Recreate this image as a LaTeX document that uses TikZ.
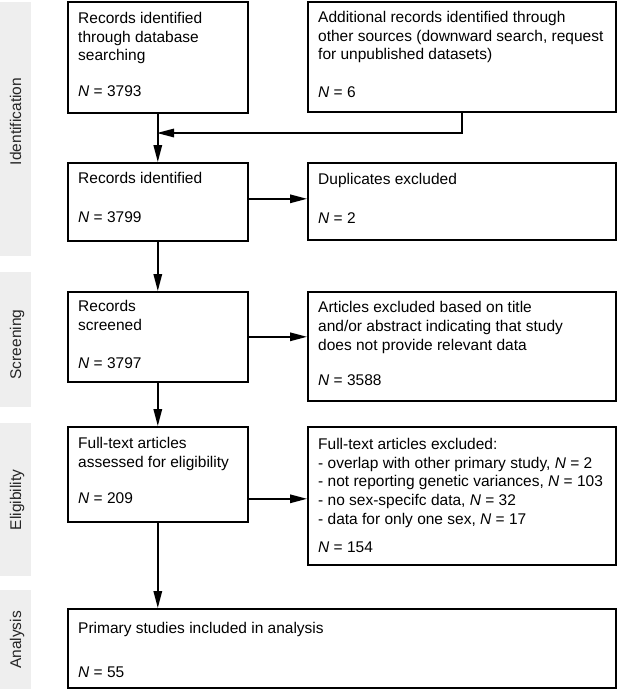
\documentclass[tikz,border=0pt]{standalone}
\usepackage{fontspec}
\setmainfont{Liberation Sans}
\usetikzlibrary{arrows.meta,calc}
\definecolor{bargray}{RGB}{238,238,238}
\newcommand\Nit{\textit{N}}
\newcommand\fstrut{\rule{0pt}{12pt}}
\begin{document}
\begin{tikzpicture}[x=1pt,y=-1pt,
  box/.style={draw, line width=1.6pt, anchor=north west, inner sep=0pt, minimum width=#1},
  txt/.style={anchor=north west, inner sep=0pt, align=left, font=\fontsize{15.5}{18.8}\selectfont},
  arr/.style={line width=1.5pt, -{Triangle[length=17pt,width=8.5pt]}},
  bar/.style={fill=bargray, draw=none},
  lab/.style={rotate=90, anchor=base, inner sep=0pt, text=black!85, font=\fontsize{15.5}{18.8}\selectfont}]
\useasboundingbox (0,0) rectangle (617,689);
% phase bars
\fill[bar] (0,2) rectangle (31,256);
\fill[bar] (0,272) rectangle (31,407);
\fill[bar] (0,423) rectangle (31,576);
\fill[bar] (0,590) rectangle (31,689);
\node[lab] (l1) at (21,121.5) {Identification};
\node[lab] (l2) at (21,344.5) {Screening};
\node[lab] (l3) at (21,500) {Eligibility};
\node[lab] (l4) at (21,640) {Analysis};
% boxes
\node[box=180pt, minimum height=111pt] (b1) at (67,1) {};
\node[box=308pt, minimum height=110pt] (b2) at (307,1) {};
\node[box=180pt, minimum height=78pt] (b3) at (67,162) {};
\node[box=308pt, minimum height=77pt] (b4) at (307,162) {};
\node[box=180pt, minimum height=90pt] (b5) at (67,291) {};
\node[box=308pt, minimum height=109pt] (b6) at (307,291) {};
\node[box=180pt, minimum height=95pt] (b7) at (67,426) {};
\node[box=308pt, minimum height=138pt] (b8) at (307,426) {};
\node[box=548pt, minimum height=79pt] (b9) at (67,608) {};
% texts
\node[txt] (t1) at ($(b1.north west)+(11,10)$) {\fstrut Records identified\\through database\\searching\\[17pt]\Nit\ = 3793};
\node[txt] (t2) at ($(b2.north west)+(11,9)$) {\fstrut Additional records identified through\\other sources (downward search, request\\for unpublished datasets)\\[18.5pt]\Nit\ = 6};
\node[txt] (t3) at ($(b3.north west)+(11,9)$) {\fstrut Records identified\\[20pt]\Nit\ = 3799};
\node[txt] (t4) at ($(b4.north west)+(11,10)$) {\fstrut Duplicates excluded\\[20pt]\Nit\ = 2};
\node[txt] (t5) at ($(b5.north west)+(11,8.7)$) {\fstrut Records\\screened\\[19pt]\Nit\ = 3797};
\node[txt] (t6) at ($(b6.north west)+(11,9.3)$) {\fstrut Articles excluded based on title\\and/or abstract indicating that study\\does not provide relevant data\\[17pt]\Nit\ = 3588};
\node[txt] (t7) at ($(b7.north west)+(11,10)$) {\fstrut Full-text articles\\assessed for eligibility\\[17.5pt]\Nit\ = 209};
\node[txt] (t8) at ($(b8.north west)+(11,11)$) {\fstrut Full-text articles excluded:\\- overlap with other primary study, \Nit\ = 2\\- not reporting genetic variances, \Nit\ = 103\\- no sex-specifc data, \Nit\ = 32\\- data for only one sex, \Nit\ = 17\\[9.6pt]\Nit\ = 154};
\node[txt] (t9) at ($(b9.north west)+(11,13.3)$) {\fstrut Primary studies included in analysis\\[25pt]\Nit\ = 55};
% connectors
\coordinate (j) at (157,133);
\draw[arr] (b1.south) -- (b3.north);
\draw[arr] (b2.south) |- (j);
\draw[arr] ([yshift=3pt]b3.east) -- ([yshift=3pt]b3.east -| b4.west);
\draw[arr] (b3.south) -- (b5.north);
\draw[arr] (b5.east) -- (b5.east -| b6.west);
\draw[arr] (b5.south) -- (b7.north);
\draw[arr] ([yshift=-24.5pt]b7.east) -- ([yshift=-24.5pt]b7.east -| b8.west);
\draw[arr] (b7.south) -- (b7.south |- b9.north);
\end{tikzpicture}
\end{document}
